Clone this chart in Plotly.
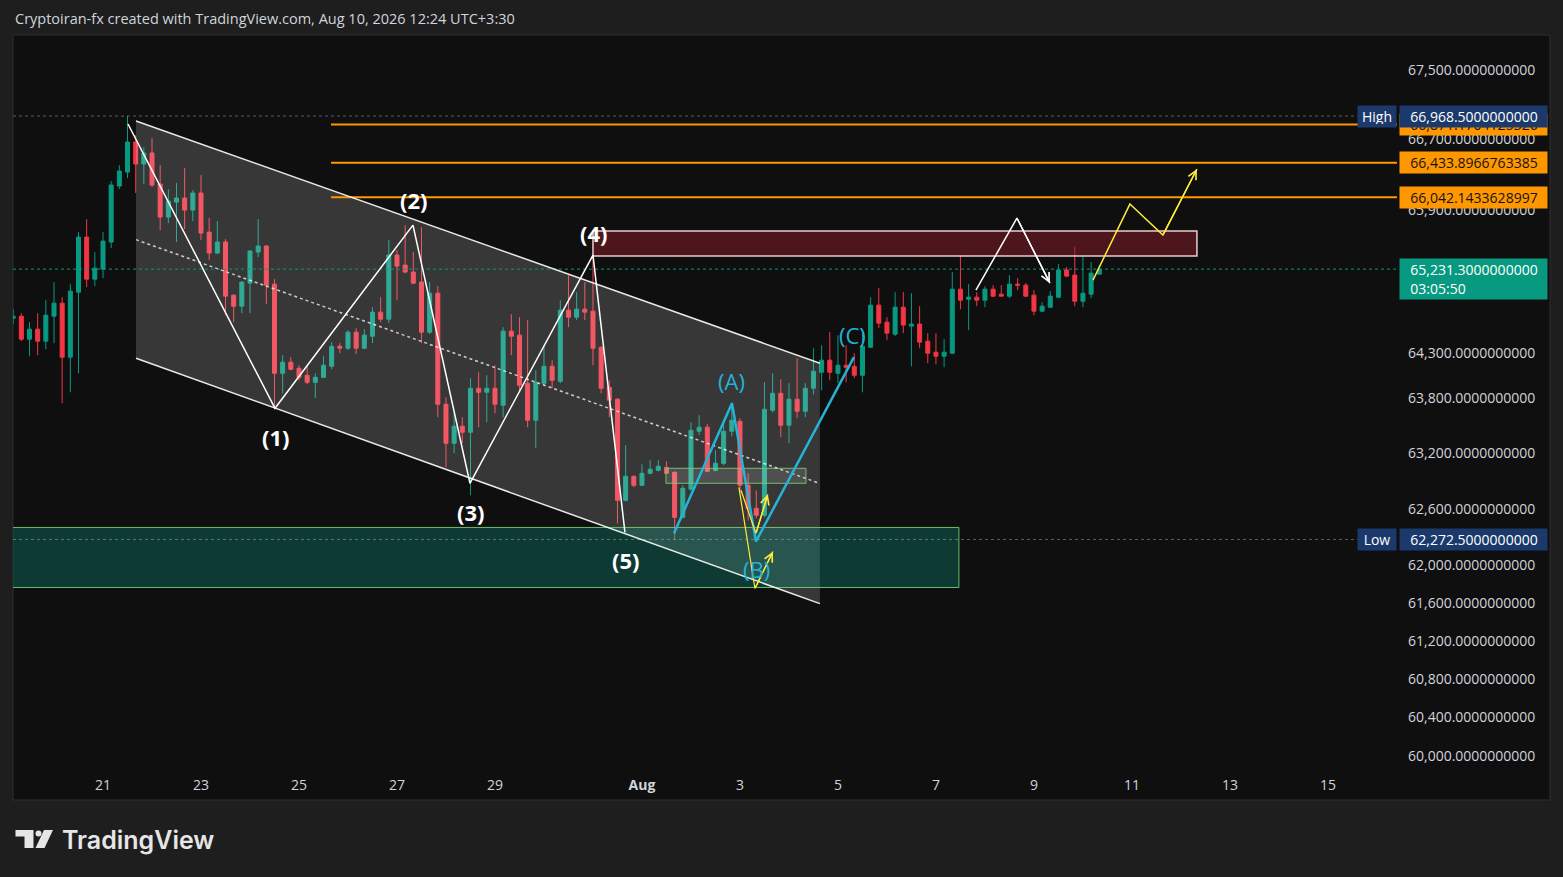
import math

import pandas as pd
import plotly.graph_objects as go


# %% DATA  (4h candles, first candle Jul 19 04:00)
first_candle = '2026-07-19 04:00'

opens = [
    64684, 64706, 64451, 64562, 64429,
    64706, 64851, 64252, 64974, 65591, 65119,
    65231, 65535, 66168, 66327, 66670, 66419,
    66545, 66191, 65817, 65986, 66032, 65896,
    66089, 65647, 65411, 65535, 64940, 64817,
    65074, 65422, 65490, 65063, 64075, 64197,
    64130, 64053, 63976, 64031, 64152, 64373,
    64351, 64529, 64351, 64484, 64751, 64673,
    65389, 65276, 65198, 65086, 64529, 64962,
    63735, 63309, 63495, 63429, 63910, 63866,
    63910, 63724, 64540, 64496, 63965, 63560,
    63965, 64152, 63987, 64773, 64695, 64784,
    64762, 64362, 63921, 63790, 62692, 62951,
    62854, 62984, 63016, 63048, 62994, 62509,
    62811, 63440, 63484, 63016, 63092, 63440,
    63549, 62854, 62606, 62531, 63669, 63855,
    63506, 63790, 63658, 63910, 64086, 64219,
    64075, 64163, 64152, 64053, 64362, 64829,
    64640, 64507, 64806, 64596, 64618, 64429,
    64307, 64263, 64296, 65007, 64895, 64918,
    64884, 65007, 64951, 64929, 65063, 65052,
    64940, 64762, 64806, 64918, 65220, 65164,
    64873, 64951, 65175,
]
highs = [
    64784, 64740, 64640, 64740, 64884,
    65086, 64918, 65063, 65647, 65794, 65422,
    65647, 66225, 66407, 66968.5, 66750, 66613,
    66716, 66407, 66134, 66202, 66373, 66123,
    66293, 65806, 65772, 65568, 64950, 65095,
    65445, 65794, 65500, 65119, 64274, 64252,
    64163, 64163, 64075, 64263, 64418, 64407,
    64551, 64573, 64562, 64806, 64918, 65557,
    65445, 65726, 65422, 65704, 65086, 65041,
    63811, 63636, 63593, 64020, 64086, 64053,
    64163, 64584, 64728, 64695, 64662, 64108,
    64384, 64219, 64884, 65164, 64974, 65086,
    65389, 64370, 63998, 63801, 63288, 62962,
    63081, 63124, 63124, 63113, 63005, 62854,
    63538, 63615, 63517, 63233, 63527, 63757,
    63582, 62984, 62800, 63976, 64075, 64009,
    63965, 64241, 63965, 64351, 64384, 64529,
    64496, 64384, 64296, 64518, 64918, 65019,
    64695, 64974, 64974, 64962, 64817, 64518,
    64518, 64451, 65198, 65389, 65063, 64974,
    65041, 65052, 65052, 65164, 65130, 65074,
    64996, 64862, 64985, 65287, 65254, 65478,
    65377, 65310, 65276,
]
lows = [
    64618, 64429, 64263, 64274, 64340,
    64407, 63746, 63866, 64075, 65030, 65041,
    65130, 65467, 66134, 66259, 66089, 66191,
    66157, 65670, 65749, 65535, 65681, 65772,
    65557, 65332, 65400, 64717, 64640, 64740,
    64740, 65366, 64840, 63680, 63855, 64108,
    63998, 63954, 63801, 64020, 64119, 64296,
    64329, 64285, 64340, 64407, 64640, 64629,
    64884, 65186, 65065, 64407, 64507, 63593,
    63048, 63200, 63309, 62746, 63484, 63538,
    63636, 63593, 64274, 63866, 63484, 63255,
    63943, 63910, 63965, 64584, 64662, 64662,
    64163, 63855, 63593, 62445, 62680, 62832,
    62845, 62973, 63005, 62975, 62272.5, 62498,
    62800, 63397, 62994, 63005, 63070, 63386,
    62778, 62477, 62498, 62509, 63647, 63375,
    63309, 63582, 63593, 63844, 63888, 63998,
    63965, 63976, 64020, 63866, 64355, 64573,
    64440, 64484, 64518, 64152, 64351, 64186,
    64175, 64141, 64285, 64784, 64551, 64817,
    64806, 64918, 64925, 64907, 64996, 64918,
    64717, 64751, 64795, 64907, 65141, 64817,
    64806, 64907, 65170,
]
closes = [
    64706, 64451, 64562, 64429, 64717,
    64851, 64252, 64985, 65591, 65119, 65242,
    65546, 66180, 66339, 66670, 66419, 66545,
    66180, 65817, 65998, 66032, 65896, 66089,
    65636, 65411, 65535, 64929, 64817, 65086,
    65434, 65490, 65052, 64075, 64197, 64119,
    64031, 63976, 64031, 64163, 64373, 64351,
    64529, 64351, 64496, 64751, 64673, 65389,
    65265, 65198, 65074, 64529, 64962, 63735,
    63309, 63495, 63429, 63910, 63866, 63910,
    63735, 64540, 64484, 63943, 63560, 63976,
    64152, 63998, 64773, 64695, 64784, 64751,
    64351, 63910, 63779, 62692, 62951, 62854,
    62984, 63027, 63059, 62984, 62509, 62822,
    63451, 63484, 63005, 63092, 63440, 63560,
    62854, 62606, 62531, 63680, 63855, 63506,
    63790, 63658, 63910, 64097, 64219, 64086,
    64163, 64141, 64053, 64373, 64829, 64629,
    64518, 64806, 64607, 64618, 64418, 64296,
    64263, 64307, 65007, 64884, 64918, 64884,
    65007, 64929, 64929, 65063, 65052, 64929,
    64762, 64817, 64929, 65220, 65153, 64873,
    64962, 65186, 65231.3,
]

high_price = 66968.5
low_price = 62272.5
last_price = 65231.3
countdown = '03:05:50'

price_ticks = [67500, 66700, 65900, 65100, 64300, 63800, 63200,
               62600, 62000, 61600, 61200, 60800, 60400, 60000]
date_ticks = ['2026-07-21', '2026-07-23', '2026-07-25', '2026-07-27', '2026-07-29',
              '2026-08-01', '2026-08-03', '2026-08-05', '2026-08-07', '2026-08-09',
              '2026-08-11', '2026-08-13', '2026-08-15']
date_labels = ['21', '23', '25', '27', '29', '<b>Aug</b>', '3', '5', '7', '9', '11', '13', '15']

# drawings on the chart
channel_t = ['2026-07-21 16:10', '2026-08-04 15:10']
channel_upper = [66911, 64186]
channel_lower = [64241, 61590]
channel_mid = [65562, 62874]

wave_t = ['2026-07-21 12:15', '2026-07-24 12:15', '2026-07-27 07:50',
          '2026-07-28 11:45', '2026-07-31 00:00', '2026-07-31 15:40']
wave_p = [66877, 63691, 65726, 62876, 65389, 62348]
wave_labels = ['(1)', '(2)', '(3)', '(4)', '(5)']
wave_label_t = ['2026-07-24 12:45', '2026-07-27 08:20', '2026-07-28 12:15',
                '2026-07-31 00:30', '2026-07-31 16:10']
wave_label_p = [63375, 66009, 62563, 65636, 62048]

abc_t = ['2026-08-01 15:40', '2026-08-02 20:05', '2026-08-03 07:50', '2026-08-05 07:50']
abc_p = [62337, 63746, 62251, 64252]
abc_labels = ['(A)', '(B)', '(C)']
abc_label_t = ['2026-08-02 20:05', '2026-08-03 08:20', '2026-08-05 07:20']
abc_label_p = [63987, 61952, 64496]

yellow_outer_t = ['2026-08-02 23:30', '2026-08-03 07:20', '2026-08-03 16:10']
yellow_outer_p = [62832, 61750, 62144]
yellow_inner_t = ['2026-08-03 00:30', '2026-08-03 07:50', '2026-08-03 13:40']
yellow_inner_p = [62800, 62337, 62757]

white_proj_t = ['2026-08-07 19:35', '2026-08-08 15:40', '2026-08-09 07:50']
white_proj_p = [64996, 65806, 65074]
yellow_proj_t = ['2026-08-10 04:55', '2026-08-10 23:00', '2026-08-11 15:10', '2026-08-12 07:50']
yellow_proj_p = [65108, 65964, 65613, 66362]

fib_start = '2026-07-25 15:40'
fib_levels = [66871.1704125326, 66433.8966763385, 66042.1433628997]

demand_t = ['2026-07-18 00:00', '2026-08-07 11:15']
demand_p = [61761, 62401]
inner_t = ['2026-08-01 11:45', '2026-08-04 08:20']
inner_p = [62876, 63038]
supply_t = ['2026-07-31 00:00', '2026-08-12 07:50']
supply_p = [65377, 65659]

view_start = '2026-07-19 03:55'
view_end = '2026-08-16 09:50'
line_end = '2026-08-18 00:00'


# %% STYLE
BG = '#0f0f0f'
PAGE = '#1e1e1e'
GREEN = '#089981'
RED = '#f23645'
ORANGE = '#ff9800'
CYAN = '#25b3d7'
YELLOW = '#ffeb3b'
NAVY = '#1b3a6b'
TXT = '#d1d4dc'
FONT = 'Open Sans'

W, H = 1563, 877
L, R, T, B = 13, 1397, 35, 771   # pane in pixels


def px(x):
    return (x - L) / (R - L)


def py(y):
    return (B - y) / (B - T)


def box(t, p):
    return [t[0], t[1], t[1], t[0], t[0]], [p[0], p[0], p[1], p[1], p[0]]


times = pd.date_range(first_candle, periods=len(opens), freq='4h')

fig = go.Figure()

# channel body
fig.add_trace(go.Scatter(
    x=[channel_t[0], channel_t[1], channel_t[1], channel_t[0], channel_t[0]],
    y=[channel_upper[0], channel_upper[1], channel_lower[1], channel_lower[0], channel_upper[0]],
    fill='toself', fillcolor='rgba(255,255,255,0.17)', line=dict(width=0), mode='lines',
))

# zones
bx, by = box(demand_t, demand_p)
fig.add_trace(go.Scatter(x=bx, y=by, fill='toself', fillcolor='rgba(8,153,129,0.32)',
                         line=dict(color='rgba(120,205,110,0.9)', width=1), mode='lines'))
bx, by = box(inner_t, inner_p)
fig.add_trace(go.Scatter(x=bx, y=by, fill='toself', fillcolor='rgba(255,255,255,0.12)',
                         line=dict(color='rgba(120,205,110,0.9)', width=1), mode='lines'))
bx, by = box(supply_t, supply_p)
fig.add_trace(go.Scatter(x=bx, y=by, fill='toself', fillcolor='rgba(140,30,42,0.5)',
                         line=dict(color='rgba(255,225,225,0.9)', width=1.5), mode='lines'))

# high / low / last price lines
for level, col in [(high_price, 'rgba(190,190,190,0.45)'),
                   (low_price, 'rgba(190,190,190,0.45)'),
                   (last_price, GREEN)]:
    fig.add_trace(go.Scatter(x=[view_start, line_end], y=[level, level], mode='lines',
                             line=dict(color=col, width=1, dash='dot')))

fig.add_trace(go.Candlestick(
    x=times, open=opens, high=highs, low=lows, close=closes,
    increasing=dict(line=dict(color=GREEN, width=1), fillcolor=GREEN),
    decreasing=dict(line=dict(color=RED, width=1), fillcolor=RED),
    hoverinfo='skip',
))

for level in fib_levels:
    fig.add_trace(go.Scatter(x=[fib_start, line_end], y=[level, level], mode='lines',
                             line=dict(color=ORANGE, width=2)))

# channel borders and mid line
fig.add_trace(go.Scatter(x=channel_t, y=channel_upper, mode='lines',
                         line=dict(color='rgba(255,255,255,0.9)', width=1.5)))
fig.add_trace(go.Scatter(x=channel_t, y=channel_lower, mode='lines',
                         line=dict(color='rgba(255,255,255,0.9)', width=1.5)))
fig.add_trace(go.Scatter(x=channel_t, y=channel_mid, mode='lines',
                         line=dict(color='rgba(255,255,255,0.75)', width=1.5, dash='dot')))

# waves
fig.add_trace(go.Scatter(x=wave_t, y=wave_p, mode='lines', line=dict(color='white', width=1.5)))
fig.add_trace(go.Scatter(x=abc_t, y=abc_p, mode='lines', line=dict(color=CYAN, width=2.5)))
fig.add_trace(go.Scatter(x=yellow_outer_t, y=yellow_outer_p, mode='lines',
                         line=dict(color=YELLOW, width=1.2)))
fig.add_trace(go.Scatter(x=yellow_inner_t, y=yellow_inner_p, mode='lines',
                         line=dict(color=YELLOW, width=1.2)))
fig.add_trace(go.Scatter(x=white_proj_t, y=white_proj_p, mode='lines',
                         line=dict(color='white', width=1.5)))
fig.add_trace(go.Scatter(x=yellow_proj_t, y=yellow_proj_p, mode='lines',
                         line=dict(color=YELLOW, width=1.5)))

annotations = []

# arrow heads
for ts, ps, col in [(yellow_outer_t, yellow_outer_p, YELLOW),
                    (yellow_inner_t, yellow_inner_p, YELLOW),
                    (white_proj_t, white_proj_p, 'white'),
                    (yellow_proj_t, yellow_proj_p, YELLOW)]:
    annotations.append(dict(
        x=ts[-1], y=math.log10(ps[-1]), ax=ts[-2], ay=math.log10(ps[-2]),
        xref='x', yref='y', axref='x', ayref='y', text='', showarrow=True,
        arrowhead=5, arrowsize=1.2, arrowwidth=1.4, arrowcolor=col, standoff=0,
    ))

for lab, t, p in zip(wave_labels, wave_label_t, wave_label_p):
    annotations.append(dict(x=t, y=math.log10(p), text=lab, showarrow=False,
                            font=dict(family=FONT, size=22, color='white', weight='bold')))
for lab, t, p in zip(abc_labels, abc_label_t, abc_label_p):
    annotations.append(dict(x=t, y=math.log10(p), text=lab, showarrow=False,
                            font=dict(family=FONT, size=22, color=CYAN)))


def tag(price, text, bg, fg, **kw):
    d = dict(xref='paper', yref='y', x=px(1399), y=math.log10(price), xanchor='left',
             yanchor='middle', text='&nbsp;&nbsp;' + text, showarrow=False, bgcolor=bg,
             font=dict(family=FONT, size=14, color=fg), align='left',
             width=141, height=15, borderpad=3)
    d.update(kw)
    return d


def side_tag(price, text):
    return dict(xref='paper', yref='y', x=1.0, y=math.log10(price), xanchor='right',
                yanchor='middle', text=text, showarrow=False, bgcolor=NAVY,
                font=dict(family=FONT, size=14, color='white'), align='center',
                width=32, height=15, borderpad=3)


annotations += [
    tag(fib_levels[0], f'{fib_levels[0]:,.10f}', ORANGE, '#131313'),
    tag(fib_levels[1], f'{fib_levels[1]:,.10f}', ORANGE, '#131313'),
    tag(fib_levels[2], f'{fib_levels[2]:,.10f}', ORANGE, '#131313'),
    tag(high_price, f'{high_price:,.10f}', NAVY, 'white'),
    side_tag(high_price, 'High'),
    tag(low_price, f'{low_price:,.10f}', NAVY, 'white'),
    side_tag(low_price, 'Low'),
    tag(last_price, f'{last_price:,.10f}<br>&nbsp;&nbsp;{countdown}', GREEN, 'white',
        yanchor='top', yshift=11, height=34),
]

# header and logo
annotations.append(dict(
    xref='paper', yref='paper', x=px(13), y=py(19), xanchor='left', yanchor='middle',
    text='Cryptoiran-fx created with TradingView.com, Aug 10, 2026 12:24 UTC+3:30',
    showarrow=False, font=dict(family=FONT, size=14.5, color=TXT)))
annotations.append(dict(
    xref='paper', yref='paper', x=px(60), y=py(840), xanchor='left', yanchor='middle',
    text='TradingView', showarrow=False,
    font=dict(family='Inter', size=25, color='#e6e6e6', weight=600)))

shapes = [
    # chart frame
    dict(type='rect', xref='paper', yref='paper', x0=px(L), x1=px(1550), y0=py(800), y1=py(T),
         fillcolor=BG, line=dict(color='#2e2e2e', width=1), layer='below'),
    # logo mark
    dict(type='path', xref='paper', yref='paper', layer='above', fillcolor='#e6e6e6',
         line=dict(width=0),
         path=(f'M{px(15.5)},{py(830)} L{px(33.5)},{py(830)} L{px(33.5)},{py(848)} '
               f'L{px(24.5)},{py(848)} L{px(24.5)},{py(836.5)} L{px(15.5)},{py(836.5)} Z')),
    dict(type='circle', xref='paper', yref='paper', layer='above', fillcolor='#e6e6e6',
         line=dict(width=0), x0=px(35.5), x1=px(41.5), y0=py(836.5), y1=py(830.5)),
    dict(type='path', xref='paper', yref='paper', layer='above', fillcolor='#e6e6e6',
         line=dict(width=0),
         path=(f'M{px(44)},{py(830)} L{px(53)},{py(830)} L{px(44.5)},{py(848)} '
               f'L{px(35.5)},{py(848)} Z')),
]

fig.update_layout(
    width=W, height=H, autosize=False,
    margin=dict(l=L, r=W - R, t=T, b=H - B, pad=0),
    paper_bgcolor=PAGE, plot_bgcolor=BG,
    showlegend=False, hovermode=False,
    annotations=annotations, shapes=shapes,
    xaxis=dict(
        type='date', range=[view_start, view_end], rangeslider=dict(visible=False),
        tickmode='array', tickvals=date_ticks, ticktext=date_labels,
        showgrid=False, zeroline=False, showline=False, ticks='',
        tickfont=dict(family=FONT, size=14, color=TXT), ticklabelstandoff=4,
    ),
    yaxis=dict(
        type='log', side='right',
        range=[math.log10(59845), math.log10(67907)],
        tickmode='array', tickvals=price_ticks,
        ticktext=[f'{v:,.10f}' for v in price_ticks],
        showgrid=False, zeroline=False, showline=False, ticks='',
        tickfont=dict(family=FONT, size=14, color=TXT), ticklabelstandoff=10,
    ),
)

fig.write_html('out.html', config={'displayModeBar': False},
               post_script="document.body.style.margin='0';")
